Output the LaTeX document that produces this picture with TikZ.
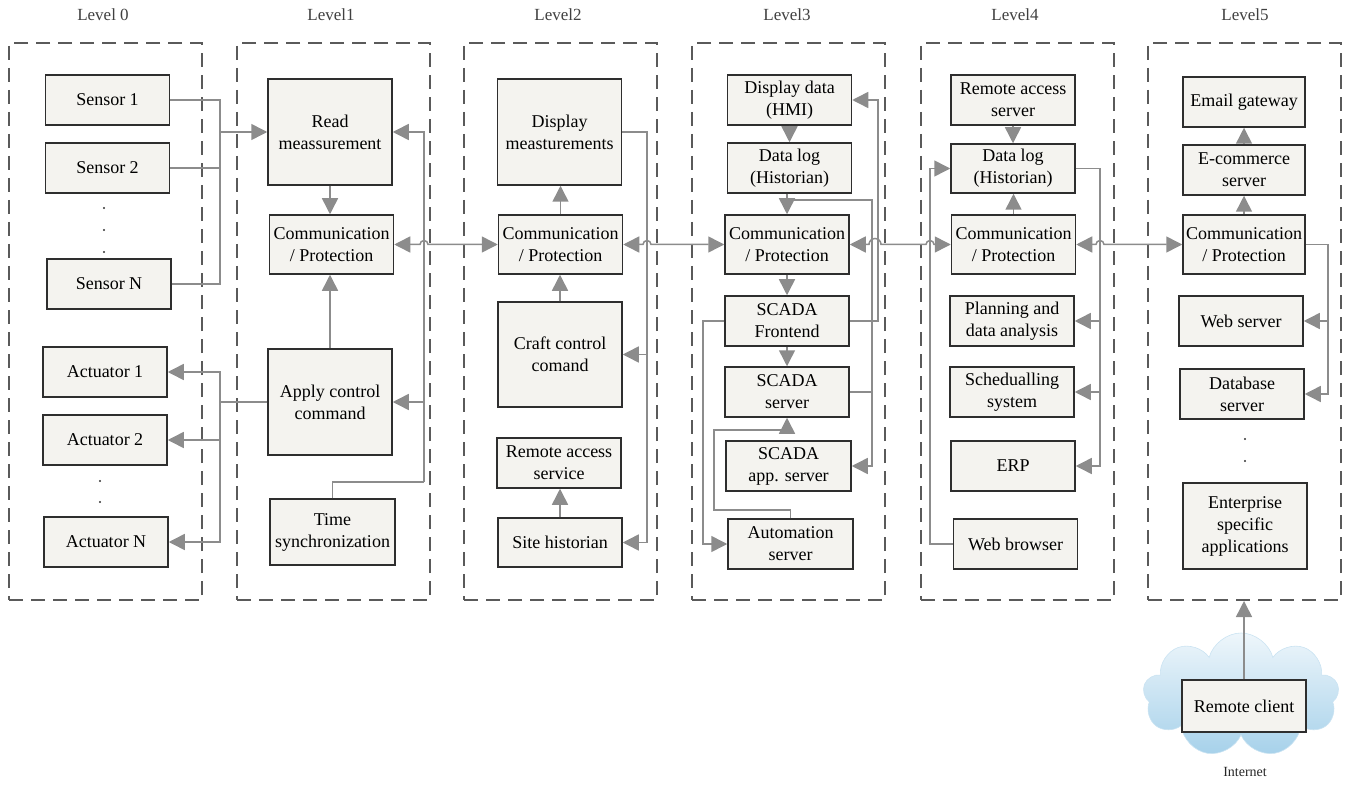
\documentclass[tikz,border=0pt]{standalone}
\usepackage{fontspec}
\setmainfont{Liberation Serif}
\usetikzlibrary{arrows.meta,shapes.symbols}
\definecolor{boxfill}{HTML}{F4F3EF}
\definecolor{boxdraw}{HTML}{2E2E2E}
\definecolor{linegray}{HTML}{8C8C8C}
\definecolor{panelgray}{HTML}{5A5A5A}
\definecolor{cloudtop}{HTML}{EEF6FB}
\definecolor{cloudbot}{HTML}{A6D1EA}
\begin{document}
\begin{tikzpicture}[x=1pt,y=-1pt,
  box/.style={draw=boxdraw, fill=boxfill, line width=1.5pt, minimum width=124pt, minimum height=50pt, inner sep=1pt, align=center, font=\fontsize{18}{22}\selectfont},
  panel/.style={draw=panelgray, line width=2pt, dash pattern=on 14pt off 8pt, minimum width=193pt, minimum height=557pt, inner sep=0pt},
  wire/.style={draw=linegray, line width=1.5pt},
  arr/.style={wire, -{Triangle[length=16pt,width=16pt]}},
  darr/.style={wire, {Triangle[length=16pt,width=16pt]}-{Triangle[length=16pt,width=16pt]}},
  lvl/.style={text=black!75, font=\fontsize{17}{21}\selectfont},
  dotn/.style={circle, fill=black!80, inner sep=0pt, minimum size=2.2pt}
]
\useasboundingbox (0,0) rectangle (1346,786);

% panels
\node[panel] (p0) at (105.5,321.5) {};
\node[panel] (p1) at (333.5,321.5) {};
\node[panel] (p2) at (560.5,321.5) {};
\node[panel] (p3) at (788.5,321.5) {};
\node[panel] (p4) at (1017,321.5) {};
\node[panel] (p5) at (1244.5,321.5) {};

% level labels
\node[lvl] (l0) at (103,15) {Level 0};
\node[lvl] (l1) at (331,15) {Level1};
\node[lvl] (l2) at (558,15) {Level2};
\node[lvl] (l3) at (787,15) {Level3};
\node[lvl] (l4) at (1015,15) {Level4};
\node[lvl] (l5) at (1245,15) {Level5};

% Level 0
\node[box] (s1) at (107.5,100) {Sensor 1};
\node[box] (s2) at (107.5,168) {Sensor 2};
\node[box] (sN) at (109,284) {Sensor N};
\node[dotn] (sd1) at (104,208) {};
\node[dotn] (sd2) at (104,230) {};
\node[dotn] (sd3) at (104,252) {};
\node[box] (a1) at (105,372) {Actuator 1};
\node[box] (a2) at (105,440) {Actuator 2};
\node[box] (aN) at (106,542) {Actuator N};
\node[dotn] (ad1) at (100,481) {};
\node[dotn] (ad2) at (100,502) {};

% Level 1
\node[box, minimum height=106pt] (read) at (330,132) {Read\\meassurement};
\node[box, minimum height=59pt] (c1) at (331.5,244.5) {Communication\\/ Protection};
\node[box, minimum height=106pt] (apply) at (330,402) {Apply control\\command};
\node[box, minimum width=125pt, minimum height=66pt] (time) at (332.5,532) {Time\\synchronization};

% Level 2
\node[box, minimum height=106pt] (disp) at (559.5,132) {Display\\measturements};
\node[box, minimum height=59pt] (c2) at (560.5,244.5) {Communication\\/ Protection};
\node[box, minimum height=105pt] (craft) at (560,354.5) {Craft control\\comand};
\node[box] (ras2) at (559,463) {Remote access\\service};
\node[box, minimum height=49pt] (site) at (560,542.5) {Site historian};

% Level 3
\node[box] (hmi) at (789.5,100) {Display data\\(HMI)};
\node[box] (dl3) at (789.5,168) {Data log\\(Historian)};
\node[box, minimum height=59pt] (c3) at (787,244.5) {Communication\\/ Protection};
\node[box] (fe) at (787,321) {SCADA\\Frontend};
\node[box] (ss) at (787,392) {SCADA\\server};
\node[box, minimum width=125pt] (app) at (788.5,466) {SCADA\\app. server};
\node[box, minimum width=125pt] (auto) at (790.5,544) {Automation\\server};

% Level 4
\node[box] (ras4) at (1013,100) {Remote access\\server};
\node[box, minimum height=49pt] (dl4) at (1013,168.5) {Data log\\(Historian)};
\node[box, minimum height=59pt] (c4) at (1013.5,244.5) {Communication\\/ Protection};
\node[box] (plan) at (1012,321) {Planning and\\data analysis};
\node[box] (sched) at (1012,392) {Schedualling\\system};
\node[box] (erp) at (1013,466) {ERP};
\node[box] (web) at (1015.5,544) {Web browser};

% Level 5
\node[box, minimum width=122pt] (email) at (1244,102) {Email gateway};
\node[box, minimum width=122pt] (ecom) at (1244,170) {E-commerce\\server};
\node[box, minimum width=122pt, minimum height=59pt] (c5) at (1244,244.5) {Communication\\/ Protection};
\node[box] (wsrv) at (1241,321) {Web server};
\node[box] (db) at (1242,394) {Database\\server};
\node[dotn] (ed1) at (1245,439) {};
\node[dotn] (ed2) at (1245,461) {};
\node[box, minimum height=86pt] (ent) at (1245,526) {Enterprise\\specific\\applications};

% Internet cloud
\node[cloud, cloud puffs=9, aspect=1.6, minimum width=196pt, minimum height=124pt, top color=cloudtop, bottom color=cloudbot, draw=cloudbot!60!white, line width=0.6pt] (cloud) at (1241,695) {};
\node[box, minimum height=52pt] (rc) at (1244,706) {Remote client};
\node[font=\fontsize{14}{16}\selectfont, text=black!85] (inet) at (1245,772) {Internet};

% ---- connectors ----
% sensors -> read
\coordinate (sb) at (220,132);
\draw[wire] (s1.east) -| (sb);
\draw[wire] (sN.east) -| (sb);
\draw[wire] (s2.east) -- (s2.east -| sb);
\draw[arr] (sb) -- (read.west);

% level 1 internal
\draw[arr] (read.south) -- (read.south |- c1.north);
\draw[arr] (apply.north) -- (apply.north |- c1.south);
\coordinate (ab) at (220,402);
\draw[wire] (apply.west) -- (ab);
\draw[arr] (ab) |- (a1.east);
\draw[arr] (ab) |- (aN.east);
\draw[arr] (a2.east -| ab) -- (a2.east);
\coordinate (tb) at (424,482);
\draw[wire] (time.north) |- (tb);
\draw[arr] (tb) |- (read.east);
\draw[arr] (tb |- apply.east) -- (apply.east);

% L1 <-> L2
\coordinate (h1) at (424,244.5);
\draw[darr] (c1.east) -- ([xshift=-4pt]h1) arc[start angle=180, end angle=0, radius=4pt] -- (c2.west);

% level 2 internal
\draw[arr] (c2.north) -- (c2.north |- disp.south);
\draw[arr] (craft.north) -- (craft.north |- c2.south);
\draw[arr] (site.north) -- (site.north |- ras2.south);
\coordinate (b2) at (647,542.5);
\draw[arr] (disp.east) -| (b2) -- (site.east);
\draw[arr] (b2 |- craft.east) -- (craft.east);

% L2 <-> L3
\coordinate (h2) at (647,244.5);
\draw[darr] (c2.east) -- ([xshift=-4pt]h2) arc[start angle=180, end angle=0, radius=4pt] -- (c3.west);

% level 3 internal
\draw[arr] (hmi.south) -- (hmi.south |- dl3.north);
\draw[arr] (c3.north |- dl3.south) -- (c3.north);
\coordinate (t3) at (787,200);
\coordinate (b3a) at (872,466);
\draw[arr] (t3) -| (b3a) -- (app.east);
\draw[wire] (ss.east) -- (ss.east -| b3a);
\coordinate (b3b) at (878,100);
\draw[arr] (fe.east) -| (b3b) -- (hmi.east);
\draw[arr] (c3.south) -- (c3.south |- fe.north);
\draw[arr] (fe.south) -- (fe.south |- ss.north);
\coordinate (b3c) at (703,544);
\draw[arr] (fe.west) -| (b3c) -- (auto.west);
\coordinate (a3a) at (790.5,510);
\coordinate (a3b) at (714,430);
\draw[arr] (auto.north) -- (a3a) -| (a3b) -| (ss.south);

% L3 <-> L4
\coordinate (h3) at (875,244.5);
\coordinate (h4) at (930,244.5);
\draw[darr] (c3.east) -- ([xshift=-6pt]h3) arc[start angle=180, end angle=0, radius=6pt] -- ([xshift=-4pt]h4) arc[start angle=180, end angle=0, radius=4pt] -- (c4.west);

% level 4 internal
\draw[arr] (ras4.south) -- (ras4.south |- dl4.north);
\draw[arr] (c4.north) -- (c4.north |- dl4.south);
\coordinate (b4a) at (1100,466);
\draw[arr] (dl4.east) -| (b4a) -- (erp.east);
\draw[arr] (b4a |- plan.east) -- (plan.east);
\draw[arr] (b4a |- sched.east) -- (sched.east);
\coordinate (b4b) at (930,168.5);
\draw[arr] (web.west) -| (b4b) -- (dl4.west);

% L4 <-> L5
\coordinate (h5) at (1100,244.5);
\draw[darr] (c4.east) -- ([xshift=-4pt]h5) arc[start angle=180, end angle=0, radius=4pt] -- (c5.west);

% level 5 internal
\draw[arr] (c5.north) -- (c5.north |- ecom.south);
\draw[arr] (ecom.north) -- (ecom.north |- email.south);
\coordinate (b5) at (1328,394);
\draw[arr] (c5.east) -| (b5) -- (db.east);
\draw[arr] (b5 |- wsrv.east) -- (wsrv.east);
\draw[arr] (rc.north) -- (rc.north |- p5.south);
\end{tikzpicture}
\end{document}
